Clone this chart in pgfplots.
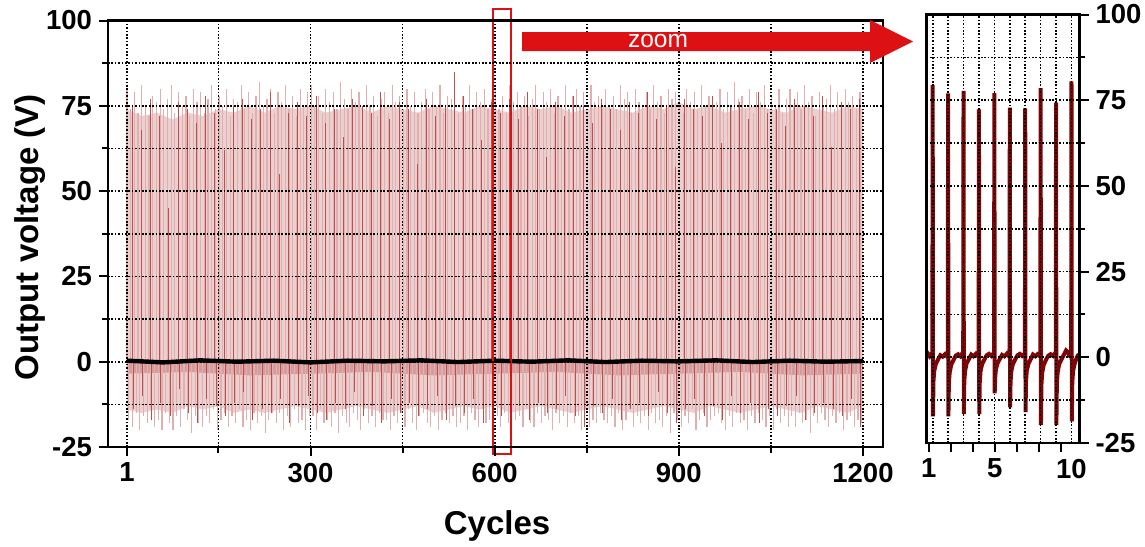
\documentclass[border=0pt]{standalone}
\usepackage{fontspec}
\setmainfont{Liberation Sans}
\usepackage{pgfplots}
\pgfplotsset{compat=1.18}
\definecolor{pinkfill}{RGB}{236,208,208}
\definecolor{pinktip}{RGB}{224,176,176}
\definecolor{pinkdark}{RGB}{214,156,156}
\definecolor{pinkline}{RGB}{188,80,80}
\definecolor{baseline}{RGB}{130,8,8}
\definecolor{zoomred}{RGB}{221,17,20}
\definecolor{tracered}{RGB}{125,5,5}
\pgfplotsset{
  common/.style={
    scale only axis, axis on top, clip=false,
    axis line style={line width=1.25pt},
    grid=both,
    major grid style={black, line width=0.85pt, dash pattern=on 0.85pt off 0.85pt},
    minor grid style={black, line width=0.85pt, dash pattern=on 0.85pt off 0.85pt},
    tick style={black, line width=1pt},
    major tick length=4.5pt, minor tick length=2.8pt,
    tick align=outside,
    ticklabel style={font=\fontsize{13.75}{14}\selectfont\bfseries},
    label style={font=\fontsize{16.5}{18}\selectfont\bfseries},
    ymin=-25, ymax=100,
    ytick={-25,0,25,50,75,100},
    yticklabels={-25,0,25,50,75,100},
    minor ytick={-12.5,12.5,37.5,62.5,87.5},
  }
}
\begin{document}
\begin{tikzpicture}
\useasboundingbox (0,0) rectangle (572.5pt,-273pt);
\begin{axis}[common,
  at={(54pt,-223.5pt)}, anchor=south west,
  width=387.5pt, height=213.25pt,
  xmin=-29.95, xmax=1232.6,
  xtick={1,300,600,900,1200}, xticklabels={1,300,600,900,1200},
  minor xtick={150,450,750,1050},
  xtick pos=bottom, ytick pos=left,
  xlabel={Cycles}, ylabel={Output voltage (V)},
  xlabel style={at={(axis description cs:0.502,-0.185)}, anchor=center},
  ylabel style={at={(axis description cs:-0.1006,0.492)}, anchor=center},
]
% light pink body of the overlapping traces
\addplot[draw=none, fill=pinkfill] coordinates {(1,0)(1,74)(25,72)(50,73)(75,71)(100,73)(125,72)(150,74)(175,73)(200,75)(225,73)(250,75)(275,74)(300,75)(325,73)(350,74)(375,75)(400,73)(425,75)(450,74)(475,73)(500,75)(525,74)(550,73)(575,75)(600,74)(625,73)(650,75)(675,74)(700,75)(725,73)(750,74)(775,75)(800,74)(825,73)(850,75)(875,74)(900,76)(925,74)(950,75)(975,73)(1000,74)(1025,75)(1050,74)(1075,73)(1100,75)(1125,74)(1150,73)(1175,75)(1200,74)(1200,0)} -- cycle;
\addplot[draw=none, fill=pinkfill] coordinates {(1,0)(1,-14)(25,-15)(50,-14)(75,-15)(100,-13)(125,-14)(150,-13)(175,-15)(200,-14)(225,-15)(250,-14)(275,-13)(300,-14)(325,-15)(350,-14)(375,-13)(400,-14)(425,-15)(450,-14)(475,-13)(500,-15)(525,-14)(550,-13)(575,-14)(600,-13)(625,-15)(650,-14)(675,-13)(700,-14)(725,-15)(750,-14)(775,-13)(800,-14)(825,-15)(850,-14)(875,-13)(900,-14)(925,-15)(950,-13)(975,-14)(1000,-15)(1025,-14)(1050,-13)(1075,-14)(1100,-15)(1125,-13)(1150,-14)(1175,-15)(1200,-13)(1200,0)} -- cycle;
\addplot[draw=none, fill=pinkdark] coordinates {(1,0)(1,-3.5)(100,-3)(200,-4)(300,-3.5)(400,-3)(500,-4)(600,-3.5)(700,-3)(800,-4)(900,-3.5)(1000,-3)(1100,-4)(1200,-3.5)(1200,0)} -- cycle;
% positive peaks
\addplot[ycomb, draw=pinktip, line width=0.6pt] coordinates {
(1,80)(7,74)(13,79)(19,73)(25,81)(31,75)(37,72)(43,78)(49,76)(55,80)
(61,74)(67,77)(73,81)(79,73)(85,79)(91,75)(97,78)(103,72)(109,80)(115,76)
(121,79)(127,73)(133,77)(139,81)(145,74)(151,78)(157,75)(163,80)(169,72)(175,77)
(181,76)(187,81)(193,74)(199,79)(205,73)(211,78)(217,82)(223,75)(229,77)(235,80)
(241,73)(247,79)(253,76)(259,81)(265,74)(271,78)(277,72)(283,80)(289,75)(295,79)
(301,81)(307,75)(313,78)(319,73)(325,80)(331,76)(337,79)(343,74)(349,82)(355,77)
(361,74)(367,80)(373,76)(379,79)(385,73)(391,81)(397,75)(403,78)(409,72)(415,77)
(421,79)(427,73)(433,81)(439,76)(445,78)(451,74)(457,80)(463,75)(469,79)(475,73)
(481,76)(487,80)(493,74)(499,79)(505,75)(511,81)(517,73)(523,78)(529,77)(535,80)
(541,73)(547,78)(553,75)(559,81)(565,74)(571,79)(577,76)(583,80)(589,74)(595,77)
(601,80)(607,74)(613,78)(619,73)(625,81)(631,76)(637,79)(643,75)(649,78)(655,72)
(661,77)(667,81)(673,74)(679,79)(685,76)(691,80)(697,73)(703,78)(709,75)(715,81)
(721,74)(727,78)(733,80)(739,75)(745,79)(751,73)(757,81)(763,76)(769,78)(775,74)
(781,80)(787,75)(793,78)(799,74)(805,81)(811,77)(817,79)(823,73)(829,80)(835,76)
(841,75)(847,79)(853,74)(859,81)(865,76)(871,78)(877,73)(883,80)(889,77)(895,79)
(901,78)(907,73)(913,80)(919,76)(925,79)(931,74)(937,81)(943,75)(949,78)(955,72)
(961,76)(967,80)(973,74)(979,79)(985,75)(991,82)(997,77)(1003,78)(1009,74)(1015,80)
(1021,73)(1027,79)(1033,76)(1039,81)(1045,74)(1051,78)(1057,75)(1063,80)(1069,73)(1075,77)
(1081,80)(1087,75)(1093,79)(1099,74)(1105,81)(1111,76)(1117,78)(1123,72)(1129,79)(1135,75)
(1141,77)(1147,81)(1153,74)(1159,79)(1165,75)(1171,80)(1177,76)(1183,78)(1189,74)(1195,79)};
% negative peaks
\addplot[ycomb, draw=pinktip, line width=0.6pt] coordinates {
(4,-17)(10,-19)(16,-15)(22,-20)(28,-16)(34,-18)(40,-14)(46,-19)(52,-17)(58,-20)
(64,-15)(70,-18)(76,-20)(82,-16)(88,-19)(94,-14)(100,-17)(106,-21)(112,-16)(118,-18)
(124,-19)(130,-16)(136,-18)(142,-14)(148,-20)(154,-17)(160,-15)(166,-19)(172,-16)(178,-18)
(184,-14)(190,-19)(196,-17)(202,-20)(208,-15)(214,-18)(220,-16)(226,-21)(232,-17)(238,-15)
(244,-18)(250,-15)(256,-20)(262,-16)(268,-19)(274,-14)(280,-18)(286,-17)(292,-20)(298,-16)
(304,-16)(310,-20)(316,-14)(322,-18)(328,-17)(334,-19)(340,-15)(346,-21)(352,-16)(358,-18)
(364,-19)(370,-15)(376,-17)(382,-20)(388,-14)(394,-18)(400,-16)(406,-19)(412,-15)(418,-17)
(424,-17)(430,-20)(436,-16)(442,-18)(448,-15)(454,-19)(460,-14)(466,-18)(472,-20)(478,-16)
(484,-15)(490,-18)(496,-19)(502,-16)(508,-20)(514,-17)(520,-15)(526,-18)(532,-16)(538,-19)
(544,-18)(550,-16)(556,-20)(562,-15)(568,-17)(574,-19)(580,-14)(586,-18)(592,-17)(598,-15)
(604,-16)(610,-19)(616,-15)(622,-18)(628,-20)(634,-17)(640,-16)(646,-19)(652,-14)(658,-18)
(664,-19)(670,-15)(676,-18)(682,-16)(688,-17)(694,-20)(700,-15)(706,-18)(712,-16)(718,-19)
(724,-15)(730,-18)(736,-16)(742,-20)(748,-14)(754,-19)(760,-17)(766,-18)(772,-15)(778,-17)
(784,-18)(790,-16)(796,-19)(802,-15)(808,-20)(814,-17)(820,-14)(826,-19)(832,-16)(838,-18)
(844,-16)(850,-20)(856,-15)(862,-18)(868,-17)(874,-19)(880,-16)(886,-21)(892,-15)(898,-17)
(904,-19)(910,-16)(916,-18)(922,-14)(928,-20)(934,-17)(940,-15)(946,-19)(952,-17)(958,-16)
(964,-15)(970,-18)(976,-20)(982,-16)(988,-19)(994,-15)(1000,-18)(1006,-17)(1012,-20)(1018,-16)
(1024,-18)(1030,-15)(1036,-17)(1042,-19)(1048,-16)(1054,-20)(1060,-14)(1066,-18)(1072,-16)(1078,-19)
(1084,-16)(1090,-19)(1096,-15)(1102,-18)(1108,-17)(1114,-21)(1120,-16)(1126,-18)(1132,-15)(1138,-17)
(1144,-19)(1150,-16)(1156,-18)(1162,-15)(1168,-20)(1174,-17)(1180,-16)(1186,-19)(1192,-17)(1198,-18)};
% darker individual traces
\addplot[ycomb, draw=pinkline, line width=0.4pt] coordinates {
(9,75)(24,68)(39,77)(54,72)(69,45)(84,76)(99,74)(114,70)(129,78)(144,73)
(159,62)(174,75)(189,77)(204,71)(219,74)(234,79)(249,55)(264,73)(279,76)(294,72)
(309,78)(324,70)(339,74)(354,66)(369,77)(384,75)(399,73)(414,79)(429,71)(444,76)
(459,74)(474,58)(489,77)(504,72)(519,75)(534,85)(549,78)(564,74)(579,65)(594,76)
(609,73)(624,77)(639,71)(654,79)(669,74)(684,60)(699,76)(714,72)(729,78)(744,75)
(759,70)(774,77)(789,74)(804,68)(819,76)(834,73)(849,79)(864,71)(879,75)(894,57)
(909,77)(924,74)(939,72)(954,78)(969,64)(984,75)(999,76)(1014,71)(1029,79)(1044,73)
(1059,74)(1074,69)(1089,77)(1104,75)(1119,72)(1134,78)(1149,63)(1164,76)(1179,74)(1194,77)};
\addplot[ycomb, draw=pinkline, line width=0.4pt] coordinates {
(11,-14)(26,-10)(41,-17)(56,-12)(71,-16)(86,-8)(101,-15)(116,-18)(131,-11)(146,-13)
(161,-16)(176,-12)(191,-9)(206,-17)(221,-14)(236,-15)(251,-11)(266,-18)(281,-13)(296,-10)
(311,-15)(326,-17)(341,-12)(356,-14)(371,-9)(386,-16)(401,-13)(416,-18)(431,-11)(446,-15)
(461,-12)(476,-16)(491,-14)(506,-10)(521,-17)(536,-13)(551,-15)(566,-11)(581,-18)(596,-14)
(611,-16)(626,-9)(641,-13)(656,-17)(671,-12)(686,-15)(701,-14)(716,-10)(731,-16)(746,-19)
(761,-13)(776,-15)(791,-11)(806,-17)(821,-14)(836,-12)(851,-16)(866,-9)(881,-15)(896,-18)
(911,-14)(926,-11)(941,-16)(956,-13)(971,-17)(986,-10)(1001,-15)(1016,-12)(1031,-18)(1046,-14)
(1061,-16)(1076,-13)(1091,-10)(1106,-17)(1121,-15)(1136,-12)(1151,-14)(1166,-16)(1181,-11)(1196,-19)};
% baseline
\addplot[baseline, line width=2.2pt] coordinates {(1,0.3)(60,-0.2)(120,0.4)(180,0)(240,0.3)(300,-0.2)(360,0.3)(420,0.1)(480,0.4)(540,-0.1)(600,0.3)(660,0)(720,0.4)(780,-0.1)(840,0.3)(900,0.1)(960,0.4)(1020,-0.1)(1080,0.3)(1140,0)(1200,0.2)};
\draw[zoomred, line width=1pt] (axis cs:597.3,103.5) rectangle (axis cs:626.6,-27.05);
\end{axis}

\begin{axis}[common,
  at={(463.25pt,-221.5pt)}, anchor=south west,
  width=76.5pt, height=214.25pt,
  xmin=0.6, xmax=10.52,
  xtick={1,2,3,4,5,6,7,8,9,10}, xticklabels={,,,,,,,,,10},
  major x tick style={draw=none},
  extra x ticks={0.74,2.17,3.59,5.02,6.44,7.87,9.30},
  extra x tick labels={1,,,5,,,},
  extra x tick style={grid=none, major x tick style={draw=black}},
  xtick pos=bottom, ytick pos=right, yticklabel pos=right,
]
\addplot[tracered, line width=2pt] coordinates {
(0.62,0.5)(0.7,1.0)(0.8,0.3)(0.9,0.9)(0.98,0.8)
(1,79.4)(1.02,-17.2)(1.05,-7)(1.1,-4)(1.2,-2)(1.35,-0.6)(1.5,0.6)(1.65,0.2)(1.8,0.9)(1.9,0.4)(1.98,0.7)
(2,77)(2.02,-17.2)(2.05,-7.5)(2.1,-4.5)(2.2,-2.2)(2.35,-0.8)(2.5,0.5)(2.65,0.9)(2.8,0.3)(2.9,1.0)(2.98,0.6)
(3,77.7)(3.02,-16.6)(3.05,-7)(3.1,-4)(3.2,-1.8)(3.35,-0.5)(3.5,0.8)(3.65,0.3)(3.8,1.0)(3.9,0.5)(3.98,0.7)
(4,72.3)(4.02,-16.6)(4.05,-7.5)(4.1,-4.2)(4.2,-2)(4.35,-0.7)(4.5,0.6)(4.65,1.0)(4.8,0.4)(4.9,0.9)(4.98,0.6)
(5,77.1)(5.02,-10.5)(5.05,-6)(5.1,-3.5)(5.2,-1.8)(5.35,-0.5)(5.5,0.7)(5.65,0.3)(5.8,1.0)(5.9,0.5)(5.98,0.8)
(6,72.8)(6.02,-14.6)(6.05,-7)(6.1,-4)(6.2,-2)(6.35,-0.6)(6.5,0.6)(6.65,1.0)(6.8,0.4)(6.9,0.8)(6.98,0.6)
(7,72.6)(7.02,-16)(7.05,-7)(7.1,-4)(7.2,-2)(7.35,-0.6)(7.5,0.8)(7.65,0.3)(7.8,0.9)(7.9,0.5)(7.98,0.7)
(8,78.5)(8.02,-19.8)(8.05,-8)(8.1,-4.5)(8.2,-2.2)(8.35,-0.7)(8.5,0.5)(8.65,0.9)(8.8,0.4)(8.9,1.0)(8.98,0.6)
(9,74.3)(9.02,-19.8)(9.05,-8)(9.1,-4.5)(9.2,-2)(9.35,-0.6)(9.5,0.7)(9.65,2.0)(9.75,1.6)(9.85,0.6)(9.98,0.8)
(10,80.5)(10.02,-18.7)(10.05,-7.5)(10.1,-4)(10.2,-2)(10.3,-0.6)(10.4,0.5)(10.5,0.8)};
\end{axis}

\fill[zoomred] (261pt,-16pt) -- (435pt,-16pt) -- (435pt,-10pt) -- (456.5pt,-20.75pt) -- (435pt,-31.5pt) -- (435pt,-25.5pt) -- (261pt,-25.5pt) -- cycle;
\node[text=white, font=\fontsize{12.25}{13}\selectfont, inner sep=0pt] at (329pt,-20.5pt) {zoom};
\end{tikzpicture}
\end{document}
